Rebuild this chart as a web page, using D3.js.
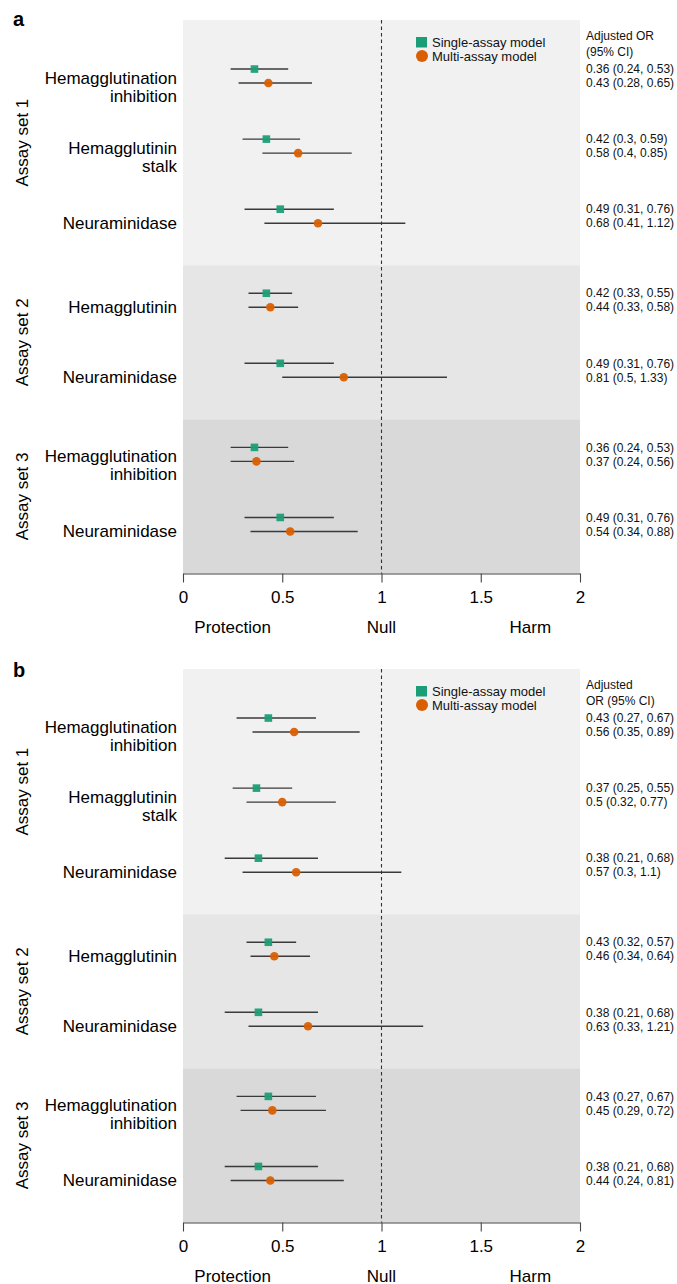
<!DOCTYPE html>
<html>
<head>
<meta charset="utf-8">
<script src="https://cdn.jsdelivr.net/npm/d3@7"></script>
<style>
  html, body { margin: 0; padding: 0; background: #fff; }
  svg { display: block; font-family: "Liberation Sans", Arial, Helvetica, sans-serif; }
</style>
</head>
<body>
<svg id="chart" width="677" height="1284"></svg>
<script>
// Assay rows (top to bottom) and the assay set each belongs to
const assaySets = ["Assay set 1", "Assay set 2", "Assay set 3"];
const assayLabels = [
  ["Hemagglutination", "inhibition"],
  ["Hemagglutinin", "stalk"],
  ["Neuraminidase"],
  ["Hemagglutinin"],
  ["Neuraminidase"],
  ["Hemagglutination", "inhibition"],
  ["Neuraminidase"]
];
const assaySetIndex = [0, 0, 0, 1, 1, 2, 2];

// Panel a: adjusted odds ratios with 95% CI
const singleOR_a = [0.36, 0.42, 0.49, 0.42, 0.49, 0.36, 0.49];
const singleLo_a = [0.24, 0.3, 0.31, 0.33, 0.31, 0.24, 0.31];
const singleHi_a = [0.53, 0.59, 0.76, 0.55, 0.76, 0.53, 0.76];
const multiOR_a  = [0.43, 0.58, 0.68, 0.44, 0.81, 0.37, 0.54];
const multiLo_a  = [0.28, 0.4, 0.41, 0.33, 0.5, 0.24, 0.34];
const multiHi_a  = [0.65, 0.85, 1.12, 0.58, 1.33, 0.56, 0.88];

// Panel b: adjusted odds ratios with 95% CI
const singleOR_b = [0.43, 0.37, 0.38, 0.43, 0.38, 0.43, 0.38];
const singleLo_b = [0.27, 0.25, 0.21, 0.32, 0.21, 0.27, 0.21];
const singleHi_b = [0.67, 0.55, 0.68, 0.57, 0.68, 0.67, 0.68];
const multiOR_b  = [0.56, 0.5, 0.57, 0.46, 0.63, 0.45, 0.44];
const multiLo_b  = [0.35, 0.32, 0.3, 0.34, 0.33, 0.29, 0.24];
const multiHi_b  = [0.89, 0.77, 1.1, 0.64, 1.21, 0.72, 0.81];

const xTicks = [0, 0.5, 1, 1.5, 2];
const directionLabels = ["Protection", "Null", "Harm"];
const directionAt = [0.25, 1, 1.75];
const legendLabels = ["Single-assay model", "Multi-assay model"];
const headerA = ["Adjusted OR", "(95% CI)"];
const headerB = ["Adjusted", "OR (95% CI)"];

const colors = { single: "#1b9e77", multi: "#d95f02" };
const bandFill = ["#f1f1f1", "#e6e6e6", "#d9d9d9"];

const svg = d3.select("#chart");
const plotLeft = 183, plotRight = 580, plotHeight = 553.5;
const x = d3.scaleLinear().domain([0, 2]).range([plotLeft, plotRight]);

// row positions: one unit per assay, extra 0.2 gap between assay sets
const rowPos = assaySetIndex.map((s, i) => i + 0.2 * s);
const bands = assaySets.map((name, s) => {
  const rows = rowPos.filter((p, i) => assaySetIndex[i] === s);
  return { name, s, y0: d3.min(rows) - (s === 0 ? 0.8 : 0.5), y1: d3.max(rows) + 0.7 };
});

function fmt(v) { return String(v); }

function drawPanel(cfg) {
  const g = svg.append("g");
  const y = d3.scaleLinear().domain([-0.8, 7.1]).range([cfg.top, cfg.top + plotHeight]);
  const axisY = y(7.1);

  // assay set background bands
  g.selectAll("rect.band").data(bands).join("rect")
    .attr("x", plotLeft).attr("width", plotRight - plotLeft)
    .attr("y", d => y(d.y0)).attr("height", d => y(d.y1) - y(d.y0))
    .attr("fill", d => bandFill[d.s]);

  // null reference line
  g.append("line")
    .attr("x1", x(1)).attr("x2", x(1))
    .attr("y1", cfg.top).attr("y2", axisY)
    .attr("stroke", "#333").attr("stroke-width", 1.1)
    .attr("stroke-dasharray", "3.5,3");

  // panel letter
  g.append("text").attr("x", 13).attr("y", cfg.letterY)
    .attr("font-size", 20).attr("font-weight", "bold").text(cfg.letter);

  // assay set labels (rotated)
  g.selectAll("text.set").data(bands).join("text")
    .attr("transform", d => `translate(28,${(y(d.y0) + y(d.y1)) / 2}) rotate(-90)`)
    .attr("text-anchor", "middle").attr("font-size", 17)
    .text(d => d.name);

  // assay labels
  assayLabels.forEach((lines, i) => {
    const cy = y(rowPos[i]);
    const t = g.append("text").attr("text-anchor", "end").attr("font-size", 17);
    if (lines.length === 1) {
      t.append("tspan").attr("x", 177).attr("y", cy + 13).text(lines[0]);
    } else {
      lines.forEach((ln, k) => t.append("tspan").attr("x", 177).attr("y", cy + 8 + 18 * k).text(ln));
    }
  });

  const series = [
    { key: "single", or: cfg.single, lo: cfg.singleLo, hi: cfg.singleHi, dy: -7 },
    { key: "multi", or: cfg.multi, lo: cfg.multiLo, hi: cfg.multiHi, dy: 7 }
  ];

  series.forEach(s => {
    const rows = s.or.map((v, i) => ({ v, lo: s.lo[i], hi: s.hi[i], cy: y(rowPos[i]) + s.dy }));
    g.selectAll(null).data(rows).join("line")
      .attr("x1", d => x(d.lo)).attr("x2", d => x(d.hi))
      .attr("y1", d => d.cy).attr("y2", d => d.cy)
      .attr("stroke", "#3a3a3a").attr("stroke-width", 1.4);
    if (s.key === "single") {
      g.selectAll(null).data(rows).join("rect")
        .attr("x", d => x(d.v) - 3.8).attr("y", d => d.cy - 3.8)
        .attr("width", 7.6).attr("height", 7.6)
        .attr("fill", colors.single).attr("fill-opacity", 0.95);
    } else {
      g.selectAll(null).data(rows).join("circle")
        .attr("cx", d => x(d.v)).attr("cy", d => d.cy).attr("r", 4.3)
        .attr("fill", colors.multi).attr("fill-opacity", 0.95);
    }
    // value column
    g.selectAll(null).data(rows).join("text")
      .attr("x", 586).attr("y", d => d.cy).attr("dy", "0.35em")
      .attr("font-size", 12).attr("fill", "#111")
      .text(d => `${fmt(d.v)} (${fmt(d.lo)}, ${fmt(d.hi)})`);
  });

  // column header
  cfg.header.forEach((h, k) => {
    g.append("text").attr("x", 586).attr("y", cfg.top + 16 + 15.5 * k).attr("dy", "0.35em")
      .attr("font-size", 12).attr("fill", "#111").text(h);
  });

  // legend
  const lg = g.append("g");
  lg.append("rect").attr("x", 416).attr("y", cfg.top + 17).attr("width", 11).attr("height", 10.5)
    .attr("fill", colors.single);
  lg.append("circle").attr("cx", 422).attr("cy", cfg.top + 36).attr("r", 6)
    .attr("fill", colors.multi);
  legendLabels.forEach((l, k) => {
    lg.append("text").attr("x", 432).attr("y", cfg.top + 27 + 14.3 * k)
      .attr("font-size", 13).attr("fill", "#111").text(l);
  });

  // x axis
  const axis = d3.axisBottom(x).tickValues(xTicks).tickSize(9).tickSizeOuter(0)
    .tickPadding(8.5).tickFormat(d3.format("~g"));
  const ax = g.append("g").attr("transform", `translate(0,${axisY})`).call(axis);
  ax.select(".domain").attr("stroke", "#444").attr("stroke-width", 1.2);
  ax.selectAll(".tick line").attr("stroke", "#444").attr("stroke-width", 1.1);
  ax.selectAll(".tick text").attr("font-size", 17).attr("fill", "#000")
    .attr("font-family", "\"Liberation Sans\", Arial, sans-serif");

  g.selectAll(null).data(directionLabels).join("text")
    .attr("x", (d, i) => x(directionAt[i])).attr("y", axisY + 59)
    .attr("text-anchor", "middle").attr("font-size", 17).text(d => d);
}

drawPanel({
  letter: "a", letterY: 26, top: 20, header: headerA,
  single: singleOR_a, singleLo: singleLo_a, singleHi: singleHi_a,
  multi: multiOR_a, multiLo: multiLo_a, multiHi: multiHi_a
});
drawPanel({
  letter: "b", letterY: 677, top: 669, header: headerB,
  single: singleOR_b, singleLo: singleLo_b, singleHi: singleHi_b,
  multi: multiOR_b, multiLo: multiLo_b, multiHi: multiHi_b
});
</script>
</body>
</html>
